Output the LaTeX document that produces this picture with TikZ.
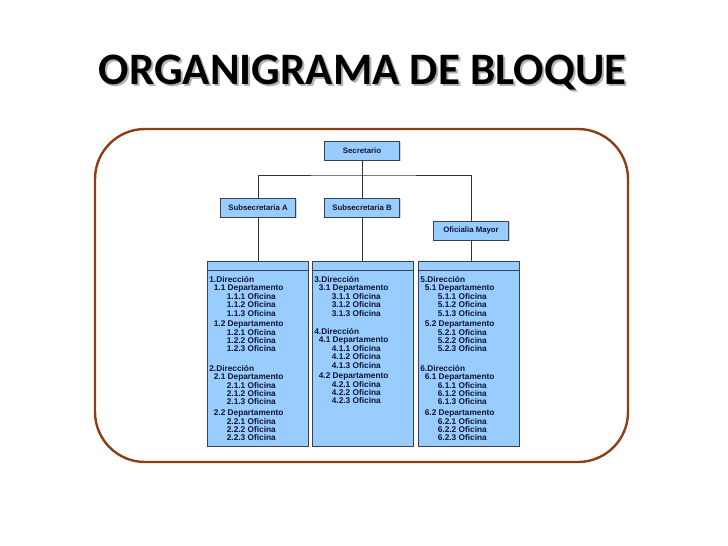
\documentclass[tikz,border=0pt]{standalone}
\usepackage{fontspec}
\newfontfamily\titlefont{Carlito}
\newfontfamily\boxfont{Liberation Sans}
\usetikzlibrary{positioning, calc, shadows}

\definecolor{cajaazul}{RGB}{153,204,255}
\definecolor{bordecaja}{RGB}{55,65,85}
\definecolor{textocaja}{RGB}{15,20,50}
\definecolor{marco}{RGB}{140,62,20}

% one department with its three offices
\newcommand{\depto}[1]{\hspace*{4.5pt}#1 Departamento\\
  \hspace*{17.5pt}#1.1 Oficina\\
  \hspace*{17.5pt}#1.2 Oficina\\
  \hspace*{17.5pt}#1.3 Oficina}

\tikzset{
  puesto/.style={draw=bordecaja, fill=cajaazul, line width=0.9pt,
    minimum width=75pt, minimum height=19pt, inner sep=0pt,
    drop shadow={shadow xshift=1pt, shadow yshift=-1pt, opacity=0.35},
    font=\boxfont\bfseries\fontsize{7.8}{8}\selectfont, text=textocaja},
  bloque/.style={draw=bordecaja, fill=cajaazul, line width=0.7pt,
    minimum width=101pt, minimum height=185pt, inner sep=0pt},
  lista/.style={align=left, inner sep=0pt, anchor=north west,
    font=\boxfont\bfseries\fontsize{8.3}{8.4}\selectfont, text=textocaja},
  conector/.style={draw=black!80, line width=0.8pt},
  titulo/.style={font=\titlefont\bfseries\fontsize{45}{48}\selectfont, anchor=base},
}

\begin{document}
\begin{tikzpicture}[x=1pt, y=-1pt]
    \useasboundingbox (0,0) rectangle (728,546);

    % Title with its shadow
    \node[titulo, text=black!30] (sombra) at (364.5,86) {ORGANIGRAMA DE BLOQUE};
    \node[titulo, text=black] (titulo) at (362.5,84) {ORGANIGRAMA DE BLOQUE};

    % Rounded frame
    \draw[marco, line width=2.4pt, rounded corners=50pt] (95,129) rectangle (628,462);

    % Posts
    \node[puesto] (secretario) at (362,150.5) {Secretario};
    \node[puesto] (subA) at (258,207.5) {Subsecretaria A};
    \node[puesto] (subB) at (362,207.5) {Subsecretaria B};
    \node[puesto] (oficialia) at (471,230.5) {Oficialia Mayor};

    % Blocks
    \node[bloque] (bloqueA) at (257.5,354) {};
    \node[bloque] (bloqueB) at (362.5,354) {};
    \node[bloque] (bloqueC) at (468.5,354) {};
    \foreach \b in {bloqueA, bloqueB, bloqueC}{
        \draw[bordecaja, line width=0.7pt] ([yshift=-9pt]\b.north west) -- ([yshift=-9pt]\b.north east);
    }

    % Connectors
    \coordinate (bus) at (362,175);
    \draw[conector] (secretario) -- (subB);
    \draw[conector] (subA) |- (bus) -| (oficialia);
    \draw[conector] (subA.south) -- (subA.south |- bloqueA.north);
    \draw[conector] (subB.south) -- (subB.south |- bloqueB.north);
    \draw[conector] (oficialia.south) -- (oficialia.south |- bloqueC.north);

    % Block contents
    \node[lista] (listaA) at ([xshift=2.5pt, yshift=-15pt]bloqueA.north west) {%
        1.Dirección\\ \depto{1.1}\\[2.3pt] \depto{1.2}\\[11pt]
        2.Dirección\\ \depto{2.1}\\[2.3pt] \depto{2.2}};
    \node[lista] (listaB) at ([xshift=2.5pt, yshift=-15pt]bloqueB.north west) {%
        3.Dirección\\ \depto{3.1}\\[10pt]
        4.Dirección\\ \depto{4.1}\\[2.3pt] \depto{4.2}};
    \node[lista] (listaC) at ([xshift=2.5pt, yshift=-15pt]bloqueC.north west) {%
        5.Dirección\\ \depto{5.1}\\[2.3pt] \depto{5.2}\\[11pt]
        6.Dirección\\ \depto{6.1}\\[2.3pt] \depto{6.2}};

\end{tikzpicture}
\end{document}
